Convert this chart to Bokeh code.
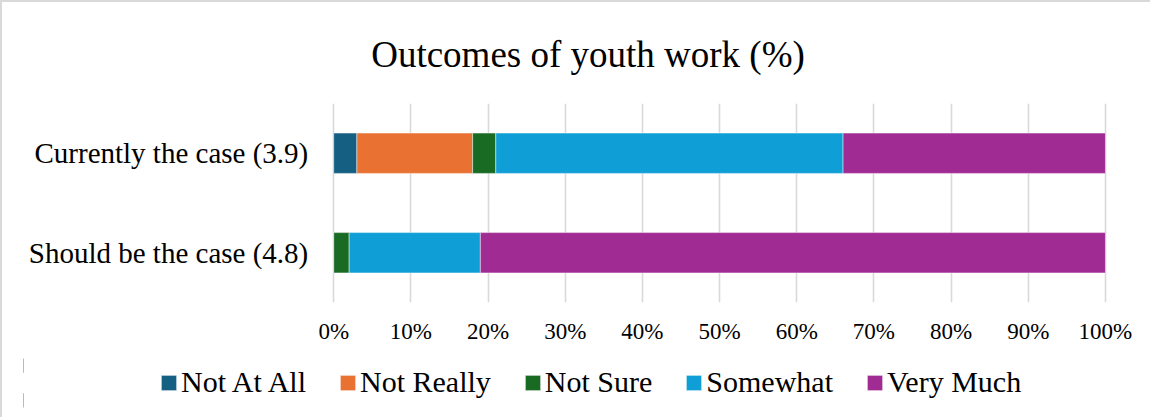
from bokeh.plotting import figure
from bokeh.layouts import column
from bokeh.models import ColumnDataSource, Range1d, FixedTicker, PrintfTickFormatter, Legend, LegendItem
from bokeh.core.properties import value
from bokeh.embed import file_html
from bokeh.resources import INLINE

categories = ["Should be the case (4.8)", "Currently the case (3.9)"]
series = ["Not At All", "Not Really", "Not Sure", "Somewhat", "Very Much"]
not_at_all = [0, 3]
not_really = [0, 15]
not_sure = [2, 3]
somewhat = [17, 45]
very_much = [81, 34]
colors = ["#156082", "#E97132", "#196B24", "#0F9ED5", "#A02B93"]
x_ticks = [0, 10, 20, 30, 40, 50, 60, 70, 80, 90, 100]
title_text = "Outcomes of youth work (%)"

FONT = "Liberation Serif"
BORDER = "2px solid #d9d9d9"

source = ColumnDataSource(data={
    "cat": categories,
    "Not At All": not_at_all,
    "Not Really": not_really,
    "Not Sure": not_sure,
    "Somewhat": somewhat,
    "Very Much": very_much,
})

# ---------------- main chart ----------------
p = figure(
    y_range=categories,
    x_range=Range1d(-40.2, 106.1),
    frame_width=1127, frame_height=197,
    output_backend="svg", toolbar_location=None,
    min_border_left=21, min_border_right=0,
    min_border_top=101, min_border_bottom=48,
)
p.styles = {"border-left": BORDER, "border-top": BORDER}

renderers = p.hbar_stack(series, y="cat", height=0.405, color=colors, source=source,
                         line_color="white", line_alpha=0.45, line_width=1)

# category labels (left of the 0% line)
p.text(x=[-3.3] * len(categories), y=categories, text=categories,
       text_align="right", text_baseline="middle",
       text_font=value(FONT), text_font_size="29px", text_color="#000000")
p.yaxis.visible = False

p.title.text = title_text
p.title.text_font = FONT
p.title.text_font_size = "37px"
p.title.text_font_style = "normal"
p.title.text_color = "#000000"
p.title.align = "center"
p.title.standoff = 57

p.outline_line_color = None
p.background_fill_color = "white"
p.border_fill_color = "white"

p.xgrid.ticker = FixedTicker(ticks=x_ticks)
p.xgrid.grid_line_color = "#d9d9d9"
p.xgrid.grid_line_width = 1.6
p.ygrid.grid_line_color = None

xa = p.xaxis[0]
xa.ticker = FixedTicker(ticks=x_ticks)
xa.formatter = PrintfTickFormatter(format="%d%%")
xa.axis_line_color = None
xa.major_tick_line_color = None
xa.minor_tick_line_color = None
xa.major_tick_out = 0
xa.major_tick_in = 0
xa.major_label_standoff = 16
xa.major_label_text_font = FONT
xa.major_label_text_font_size = "23px"
xa.major_label_text_color = "#000000"

# ---------------- legend strip ----------------
# The same stacked series are drawn here with an x range that keeps the bars
# out of view, so that only the legend keys of this strip are visible.
lg = figure(
    width=1148, height=69,
    y_range=categories, x_range=Range1d(1000, 1001),
    output_backend="svg", toolbar_location=None,
    min_border_left=0, min_border_right=0, min_border_top=0, min_border_bottom=0,
)
lg.styles = {"border-left": BORDER}
lg.axis.visible = False
lg.grid.visible = False
lg.outline_line_color = None
lg.background_fill_color = "white"
lg.border_fill_color = "white"

key_renderers = lg.hbar_stack(series, y="cat", height=0.405, color=colors, source=source,
                              line_color="white", line_alpha=0.45, line_width=1)

legend = Legend(
    items=[LegendItem(label=s, renderers=[r]) for s, r in zip(series, key_renderers)],
    orientation="horizontal",
    location=(136, 18),
    glyph_width=19, glyph_height=19,
    label_standoff=3, spacing=32,
    padding=0, margin=0,
    border_line_color=None,
    background_fill_alpha=0,
    label_text_font=FONT,
    label_text_font_size="30px",
    label_text_color="#000000",
)
lg.add_layout(legend, "center")

layout = column(p, lg, spacing=0)

open("out.html", "w").write(file_html(layout, INLINE))
